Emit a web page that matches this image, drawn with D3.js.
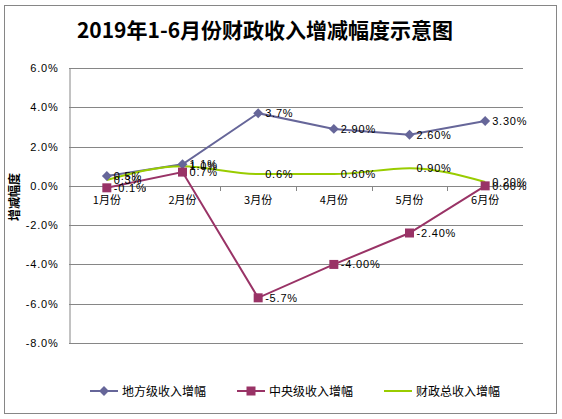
<!DOCTYPE html>
<html>
<head>
<meta charset="utf-8">
<script src="https://cdn.jsdelivr.net/npm/d3@7"></script>
<style>
  body { margin: 0; background: #fff; }
  text { font-family: "Liberation Sans", "Noto Sans CJK SC", sans-serif; }
</style>
</head>
<body>
<div id="chart"></div>
<script>
// Categories and series.
var months = ["1月份", "2月份", "3月份", "4月份", "5月份", "6月份"];
var localValues = [0.5, 1.1, 3.7, 2.9, 2.6, 3.3];
var localLabels = ["0.5%", "1.1%", "3.7%", "2.90%", "2.60%", "3.30%"];
var centralValues = [-0.1, 0.7, -5.7, -4.0, -2.4, 0.0];
var centralLabels = ["-0.1%", "0.7%", "-5.7%", "-4.00%", "-2.40%", "0.00%"];
var totalValues = [0.3, 1.0, 0.6, 0.6, 0.9, 0.2];
var totalLabels = ["0.3%", "1.0%", "0.6%", "0.60%", "0.90%", "0.20%"];
var yTicks = [6, 4, 2, 0, -2, -4, -6, -8];
var seriesNames = ["地方级收入增幅", "中央级收入增幅", "财政总收入增幅"];

var width = 562;
var height = 419;
var margin = {left: 69, right: 39, top: 68, bottom: 76};

var svg = d3.select("#chart")
  .append("svg")
  .attr("width", width)
  .attr("height", height);

// Outer chart frame.
svg.append("rect")
  .attr("x", 4.5).attr("y", 5.5)
  .attr("width", 552).attr("height", 408)
  .attr("fill", "#fff")
  .attr("stroke", "#868686");

svg.append("text")
  .attr("x", 265).attr("y", 38)
  .attr("text-anchor", "middle")
  .style("font-family", "'Noto Sans CJK SC', sans-serif")
  .style("font-weight", "bold")
  .style("font-size", "21px")
  .text("2019年1-6月份财政收入增减幅度示意图");

var x = d3.scaleBand()
  .domain(months)
  .range([margin.left, width - margin.right]);

var y = d3.scaleLinear()
  .domain([-8, 6])
  .range([height - margin.bottom, margin.top]);

function cx(d, i) { return x(months[i]) + x.bandwidth() / 2; }

// Grid lines.
svg.append("g")
  .selectAll("line")
  .data(yTicks)
  .enter()
  .append("line")
  .attr("x1", margin.left).attr("x2", width - margin.right)
  .attr("y1", function (d) { return Math.round(y(d)) + 0.5; })
  .attr("y2", function (d) { return Math.round(y(d)) + 0.5; })
  .attr("stroke", "#868686");

// Left axis with tick labels.
var yAxis = svg.append("g")
  .attr("transform", "translate(" + (margin.left + 0.5) + ",0)")
  .call(d3.axisLeft(y).tickValues(yTicks).tickSize(0).tickPadding(11)
    .tickFormat(function (d) { return d.toFixed(1) + "%"; }));
yAxis.select(".domain").attr("stroke", "#868686");
yAxis.selectAll("text")
  .style("font-family", "'Liberation Sans', sans-serif")
  .style("font-size", "11px")
  .style("letter-spacing", "0.8px")
  .attr("fill", "#000");

// Category axis sits on the zero line.
var xAxis = svg.append("g")
  .attr("transform", "translate(0," + (Math.round(y(0)) + 0.5) + ")")
  .call(d3.axisBottom(x).tickSize(0).tickPadding(10));
xAxis.select(".domain").remove();
xAxis.selectAll("text")
  .style("font-family", "'Noto Sans CJK SC', sans-serif")
  .style("font-size", "11px")
  .attr("fill", "#000");
svg.append("g")
  .selectAll("line")
  .data(months.slice(1))
  .enter()
  .append("line")
  .attr("x1", function (d) { return Math.round(x(d)) + 0.5; })
  .attr("x2", function (d) { return Math.round(x(d)) + 0.5; })
  .attr("y1", Math.round(y(0)))
  .attr("y2", Math.round(y(0)) + 5)
  .attr("stroke", "#868686");

svg.append("text")
  .attr("transform", "translate(19,197) rotate(-90)")
  .attr("text-anchor", "middle")
  .style("font-family", "'Noto Sans CJK SC', sans-serif")
  .style("font-weight", "bold")
  .style("font-size", "12px")
  .text("增减幅度");

var straight = d3.line().x(cx).y(function (d) { return y(d); });
var smooth = d3.line().x(cx).y(function (d) { return y(d); })
  .curve(d3.curveMonotoneX);

var series = [
  {values: localValues, labels: localLabels, color: "#666699", marker: "diamond", line: straight},
  {values: centralValues, labels: centralLabels, color: "#993366", marker: "square", line: straight},
  {values: totalValues, labels: totalLabels, color: "#99CC00", marker: null, line: smooth}
];

series.forEach(function (s) {
  svg.append("path")
    .datum(s.values)
    .attr("d", s.line)
    .attr("fill", "none")
    .attr("stroke", s.color)
    .attr("stroke-width", 2);
});

series.forEach(function (s) {
  if (s.marker === "diamond") {
    svg.append("g").selectAll("path")
      .data(s.values).enter().append("path")
      .attr("transform", function (d, i) { return "translate(" + cx(d, i) + "," + y(d) + ") rotate(45)"; })
      .attr("d", "M-3.5,-3.5H3.5V3.5H-3.5Z")
      .attr("fill", s.color);
  } else if (s.marker === "square") {
    svg.append("g").selectAll("rect")
      .data(s.values).enter().append("rect")
      .attr("x", function (d, i) { return cx(d, i) - 4.5; })
      .attr("y", function (d) { return y(d) - 4.5; })
      .attr("width", 9).attr("height", 9)
      .attr("fill", s.color);
  }
});

// Data labels to the right of each point.
series.forEach(function (s) {
  svg.append("g").selectAll("text")
    .data(s.values).enter().append("text")
    .attr("x", function (d, i) { return cx(d, i) + 7; })
    .attr("y", function (d) { return y(d) + 4; })
    .style("font-family", "'Liberation Sans', sans-serif")
    .style("font-size", "11px")
    .style("letter-spacing", "0.8px")
    .attr("fill", "#000")
    .text(function (d, i) { return s.labels[i]; });
});

// Legend.
var legendX = [90, 237, 384];
var legend = svg.append("g").selectAll("g")
  .data(series).enter().append("g")
  .attr("transform", function (d, i) { return "translate(" + legendX[i] + ",391)"; });
legend.append("line")
  .attr("x1", 0).attr("x2", 28)
  .attr("stroke", function (d) { return d.color; })
  .attr("stroke-width", 2);
legend.filter(function (d) { return d.marker === "diamond"; })
  .append("path")
  .attr("transform", "translate(14,0) rotate(45)")
  .attr("d", "M-3.5,-3.5H3.5V3.5H-3.5Z")
  .attr("fill", function (d) { return d.color; });
legend.filter(function (d) { return d.marker === "square"; })
  .append("rect")
  .attr("x", 9.5).attr("y", -4.5)
  .attr("width", 9).attr("height", 9)
  .attr("fill", function (d) { return d.color; });
legend.append("text")
  .attr("x", 32).attr("y", 4.5)
  .style("font-family", "'Noto Sans CJK SC', sans-serif")
  .style("font-size", "12px")
  .attr("fill", "#000")
  .text(function (d, i) { return seriesNames[i]; });
</script>
</body>
</html>
